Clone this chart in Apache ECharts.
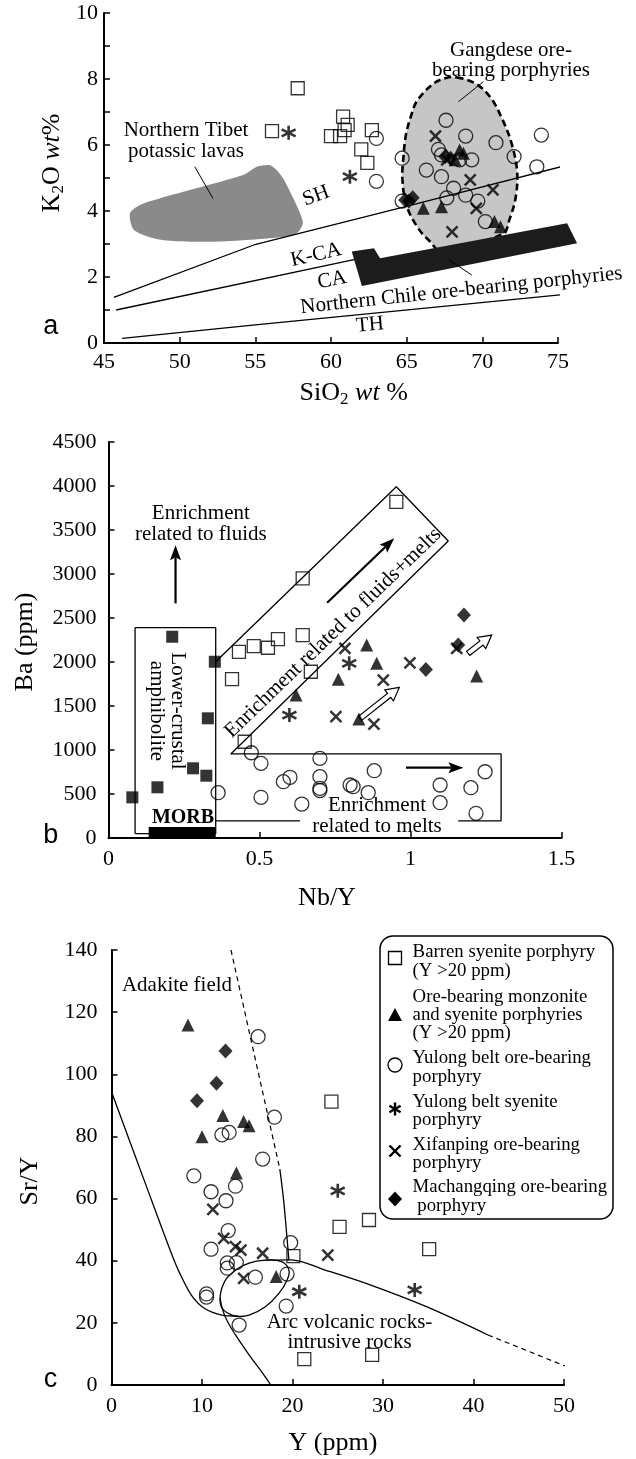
<!DOCTYPE html>
<html><head><meta charset="utf-8">
<script src="https://cdn.jsdelivr.net/npm/echarts@6/dist/echarts.min.js"></script>
<style>html,body{margin:0;padding:0;background:#fff}#c{width:636px;height:1459px}</style>
</head><body><div id="c"></div>
<script>
// ---------- Panel a : K2O vs SiO2 ----------
const aSquares = [[56.1,6.42],[57.8,7.72],[60.0,6.27],[60.6,6.27],[60.9,6.45],[61.1,6.61],[60.8,6.86],[62.7,6.45],[62.0,5.87],[62.4,5.46]];
const aCircles = [[63.0,6.2],[63.0,4.9],[64.7,5.6],[64.7,4.3],[67.6,6.75],[68.9,6.27],[70.9,6.07],[67.1,5.87],[67.3,5.7],[69.3,5.55],[66.3,5.24],[67.3,5.04],[68.1,4.69],[68.9,4.48],[67.65,4.4],[69.7,4.3],[70.2,3.68],[72.1,5.65],[73.9,6.3],[73.6,5.34],[68.5,5.55]];
const aTriangles = [[66.1,4.08],[67.3,4.13],[68.5,5.85],[68.75,5.75],[68.2,5.55],[70.8,3.68],[71.2,3.52]];
const aDiamonds = [[64.9,4.33],[65.4,4.4],[65.15,4.3],[67.55,5.65],[67.9,5.6]];
const aCrosses = [[66.9,6.27],[69.2,4.94],[70.7,4.64],[69.6,4.08],[68.0,3.37],[67.65,5.55]];
const aAsterisks = [[57.2,6.37],[61.25,5.04]];
const aLineSH = [[45.65,1.38],[54.9,2.97],[64.72,4.11],[75.2,5.34]];
const aLineKCA = [[45.8,1.0],[62.3,2.6]];
const aLineTH = [[46.2,0.14],[55.0,0.55],[75.4,1.47]];
const aTibet = [[46.72,3.94],[47.6,4.23],[54.2,5.09],[55.09,5.34],[55.97,5.39],[56.41,5.24],[56.95,4.9],[58.14,3.68],[57.8,3.35],[56.94,3.22],[52.36,3.07],[48.87,3.12],[46.99,3.42]];
const aGangdese = [[68.3,8.05],[69.6,7.85],[70.6,7.4],[71.3,6.8],[71.9,6.1],[72.3,5.2],[72.2,4.4],[71.8,3.75],[71.35,3.3],[67.2,2.8],[66.6,3.05],[65.8,3.45],[65.0,4.15],[64.72,4.95],[64.78,5.6],[64.95,6.3],[65.3,6.9],[65.7,7.35],[66.8,7.87],[67.6,8.03]];
const aChile = [[61.37,2.77],[62.84,2.87],[63.24,2.57],[75.6,3.63],[76.26,3.02],[62.04,1.73]];
const aLeaderTibet = [[51.0,5.34],[52.2,4.38]];
const aLeaderGangdese = [[70.07,7.92],[68.42,7.31]];
const aLeaderChile = [[67.8,2.52],[69.3,2.06]];

// ---------- Panel b : Ba vs Nb/Y ----------
const bBlackSquares = [[0.079,462],[0.162,576],[0.211,2287],[0.28,792],[0.324,708],[0.329,1360],[0.352,2003]];
const bSquares = [[0.409,1806],[0.432,2116],[0.481,2181],[0.528,2162],[0.561,2261],[0.643,2306],[0.67,1889],[0.451,1094],[0.643,2950],[0.953,3820]];
const bCircles = [[0.363,515],[0.473,969],[0.505,849],[0.505,462],[0.579,640],[0.601,690],[0.64,386],[0.70,905],[0.70,697],[0.70,565],[0.70,540],[0.80,602],[0.81,583],[0.86,515],[0.88,765],[1.098,602],[1.098,401],[1.2,572],[1.217,280],[1.247,753]];
const bTriangles = [[0.621,1625],[0.761,1803],[0.855,2193],[0.888,1985],[0.829,1352],[1.219,1840]];
const bAsterisks = [[0.599,1397],[0.797,1985]];
const bCrosses = [[0.783,2155],[0.91,1795],[0.753,1378],[0.879,1295],[0.998,1991],[1.153,2155]];
const bDiamonds = [[1.177,2533],[1.051,1916],[1.158,2193]];
const bAmphBox = [[0.088,50],[0.355,50],[0.355,2390],[0.088,2390],[0.088,50]];
const bChannel = [[0.355,2003],[0.953,3991],[1.125,3375],[0.405,955]];
const bMeltBox = [[0.405,955],[1.30,955],[1.30,195],[1.158,195]];
const bMeltBoxLeft = [[0.634,195],[0.355,195]];
const bMorb = [[0.133,0],[0.355,0],[0.355,125],[0.133,125]];
const bArrowFluids = [[0.222,2666],[0.222,3328]];
const bArrowChannel = [[0.724,2673],[0.946,3405]];
const bArrowMelts = [[0.985,799],[1.175,799]];
const bHollow1 = [[0.833,1360],[0.963,1712]];
const bHollow2 = [[1.191,2098],[1.269,2306]];

// ---------- Panel c : Sr/Y vs Y ----------
const cSquares = [[24.3,91.2],[25.2,50.9],[28.45,53.1],[20.1,41.5],[21.3,8.3],[28.8,9.7],[35.1,43.7]];
const cTriangles = [[8.45,115.9],[12.3,86.7],[10.0,79.9],[14.6,84.8],[15.2,83.4],[13.8,68.2],[18.2,34.9]];
const cCircles = [[16.2,112.1],[18.0,86.2],[12.2,80.5],[13.0,81.3],[16.7,72.7],[9.1,67.3],[11.0,62.2],[13.7,64.0],[12.65,59.3],[12.9,49.7],[11.0,43.7],[19.8,45.8],[12.8,39.3],[12.8,37.6],[13.8,39.4],[15.9,34.7],[19.4,35.7],[10.5,29.3],[10.5,28.3],[19.3,25.4],[14.1,19.3]];
const cAsterisks = [[25.0,62.5],[20.75,30.0],[33.5,30.6]];
const cCrosses = [[11.2,56.5],[12.4,47.2],[13.7,44.5],[14.3,43.4],[16.7,42.4],[14.6,34.3],[23.9,41.8]];
const cDiamonds = [[12.6,107.5],[11.6,97.1],[9.45,91.5]];
const cCurveA = [[0,94.4],[3.9,63.6],[6.6,42.5],[7.6,35.6],[8.9,28.6],[10.3,24.6],[12.2,22.5],[14.0,22.2]];
const cEllipse = [[12.0,27],[12.3,32],[13.3,36],[15.2,39.2],[17.0,40.2],[18.8,39.7],[19.6,37],[19.4,33.8],[18.5,29.5],[17.0,25.2],[15.2,22.5],[13.7,22.2],[12.4,24.1]];
const cDescend = [[12.0,28],[12.3,24],[12.8,20.5],[13.7,16.1],[15.2,9.7],[16.4,5],[17.6,0]];
const cAdakiteDashed = [[13.2,140],[18.6,69.5]];
const cAdakiteSolid = [[18.6,69.5],[19.0,60],[19.35,48.8],[19.6,40.2]];
const cArcSolid = [[17.0,40.2],[19.8,40.3],[23.6,37],[28.5,32.3],[34.8,25.2],[41.6,16.1]];
const cArcDashed = [[41.6,16.1],[50.3,5.9]];

const legendLabels = [
  ['Barren syenite porphyry','(Y >20 ppm)'],
  ['Ore-bearing monzonite','and syenite porphyries','(Y >20 ppm)'],
  ['Yulong belt ore-bearing','porphyry'],
  ['Yulong belt syenite','porphyry'],
  ['Xifanping ore-bearing','porphyry'],
  ['Machangqing ore-bearing',' porphyry']
];

// ---------- build ----------
const F = "'Liberation Serif','Times New Roman',serif";
const FS = "'Liberation Sans',Arial,sans-serif";
const chart = echarts.init(document.getElementById('c'));

function ax(extra, margin, fmt){
  return Object.assign({type:'value', splitLine:{show:false},
    axisLine:{show:true,onZero:false,lineStyle:{color:'#000',width:2}},
    axisTick:{show:true,inside:true,length:6,lineStyle:{color:'#000',width:1.5}},
    axisLabel:{color:'#000',fontFamily:F,fontSize:22,margin:margin,showMinLabel:true,showMaxLabel:true,hideOverlap:false,
      formatter: fmt || (v=>String(v))}}, extra);
}
const hollow = 'rgba(0,0,0,0)';
const SYM = {
  sq:{symbol:'rect',symbolSize:13,itemStyle:{color:hollow,borderColor:'#000',borderWidth:1.3}},
  ci:{symbol:'circle',symbolSize:14,itemStyle:{color:hollow,borderColor:'#000',borderWidth:1.3}},
  tri:{symbol:'triangle',symbolSize:13,itemStyle:{color:'#000'}},
  dia:{symbol:'diamond',symbolSize:[14,15],itemStyle:{color:'#000'}},
  x:{symbol:'path://M0,0L10,10M10,0L0,10',symbolSize:11,itemStyle:{color:hollow,borderColor:'#000',borderWidth:2.5}},
  ast:{symbol:'path://M5,0L5,10M0.67,2.5L9.33,7.5M0.67,7.5L9.33,2.5',symbolSize:14,itemStyle:{color:hollow,borderColor:'#000',borderWidth:2.6}},
  bsq:{symbol:'rect',symbolSize:12,itemStyle:{color:'#000'}}
};
function sc(g,data,key){
  return Object.assign({type:'scatter',xAxisIndex:g,yAxisIndex:g,data:data,z:10,silent:true,animation:false,emphasis:{disabled:true}}, JSON.parse(JSON.stringify(SYM[key])));
}
function ln(g,data,o){
  o=o||{};
  return {type:'line',xAxisIndex:g,yAxisIndex:g,data:data,symbol:'none',clip:false,silent:true,smooth:o.smooth||false,animation:false,
    lineStyle:{color:'#000',width:o.w||1.3,type:o.dash||'solid'},z:o.z||5};
}
function poly(g,pts,style,smooth,z){
  return {type:'custom',xAxisIndex:g,yAxisIndex:g,clip:false,silent:true,z:z||2,animation:false,data:[[pts[0][0],pts[0][1]]],
    renderItem:function(p,api){return {type:'polygon',shape:{points:pts.map(q=>api.coord(q)),smooth:smooth||0},style:style};}};
}
function arrowGeom(p1,p2,HL){
  const dx=p2[0]-p1[0],dy=p2[1]-p1[1],L=Math.hypot(dx,dy),ux=dx/L,uy=dy/L,nx=-uy,ny=ux;
  return {ux,uy,nx,ny,bx:p2[0]-ux*HL,by:p2[1]-uy*HL};
}
function solidArrow(g,ab){
  return {type:'custom',xAxisIndex:g,yAxisIndex:g,clip:false,silent:true,z:6,animation:false,data:[[ab[0][0],ab[0][1]]],
    renderItem:function(p,api){
      const p1=api.coord(ab[0]),p2=api.coord(ab[1]);const G=arrowGeom(p1,p2,15);
      return {type:'group',children:[
        {type:'line',shape:{x1:p1[0],y1:p1[1],x2:G.bx+G.ux*3,y2:G.by+G.uy*3},style:{stroke:'#000',lineWidth:2.2}},
        {type:'polygon',shape:{points:[p2,[G.bx+G.nx*5.5,G.by+G.ny*5.5],[G.bx+G.ux*3,G.by+G.uy*3],[G.bx-G.nx*5.5,G.by-G.ny*5.5]]},style:{fill:'#000'}}
      ]};
    }};
}
function hollowArrow(g,ab){
  return {type:'custom',xAxisIndex:g,yAxisIndex:g,clip:false,silent:true,z:6,animation:false,data:[[ab[0][0],ab[0][1]]],
    renderItem:function(p,api){
      const p1=api.coord(ab[0]),p2=api.coord(ab[1]);const G=arrowGeom(p1,p2,13);const hw=2.6,HW=7;
      const pts=[[p1[0]+G.nx*hw,p1[1]+G.ny*hw],[G.bx+G.nx*hw,G.by+G.ny*hw],[G.bx+G.nx*HW,G.by+G.ny*HW],p2,
        [G.bx-G.nx*HW,G.by-G.ny*HW],[G.bx-G.nx*hw,G.by-G.ny*hw],[p1[0]-G.nx*hw,p1[1]-G.ny*hw]];
      return {type:'polygon',shape:{points:pts},style:{fill:'#fff',stroke:'#000',lineWidth:1.2}};
    }};
}
function T(x,y,text,o){
  o=o||{};
  const st={text:text,fontFamily:o.ff||F,fontSize:o.fs||21,fontWeight:o.fw||'normal',fill:'#000',
      align:o.align||'center',verticalAlign:'middle',lineHeight:o.lh||21};
  if(o.rich) st.rich=o.rich;
  return {type:'text',x:x,y:y,rotation:(o.rot||0)*Math.PI/180,z:100,silent:true,style:st};
}
function L(x1,y1,x2,y2,w){return {type:'line',shape:{x1,y1,x2,y2},style:{stroke:'#000',lineWidth:w||2.4},z:60,silent:true};}
const richAx = {
  n:{fontFamily:F,fontSize:26,fill:'#000'},
  s:{fontFamily:F,fontSize:17,fill:'#000',verticalAlign:'bottom',lineHeight:12},
  i:{fontFamily:F,fontSize:26,fontStyle:'italic',fill:'#000'}
};

const series = [
  // panel a
  poly(0,aTibet,{fill:'#8a8a8a'},0.25,1),
  poly(0,aGangdese,{fill:'#c6c6c6',stroke:'#000',lineWidth:2.6,lineDash:[7,4]},0.35,1),
  ln(0,aLineSH),ln(0,aLineKCA),ln(0,aLineTH),
  poly(0,aChile,{fill:'#1c1c1c'},0,7),
  ln(0,aLeaderTibet,{w:1}),ln(0,aLeaderGangdese,{w:1}),ln(0,aLeaderChile,{w:1,z:8}),
  sc(0,aSquares,'sq'),sc(0,aCircles,'ci'),sc(0,aTriangles,'tri'),sc(0,aDiamonds,'dia'),sc(0,aCrosses,'x'),sc(0,aAsterisks,'ast'),
  // panel b
  ln(1,bAmphBox),ln(1,bChannel),ln(1,bMeltBox),ln(1,bMeltBoxLeft),
  poly(1,bMorb,{fill:'#000'},0,3),
  solidArrow(1,bArrowFluids),solidArrow(1,bArrowChannel),solidArrow(1,bArrowMelts),
  hollowArrow(1,bHollow1),hollowArrow(1,bHollow2),
  sc(1,bBlackSquares,'bsq'),sc(1,bSquares,'sq'),sc(1,bCircles,'ci'),sc(1,bTriangles,'tri'),sc(1,bAsterisks,'ast'),sc(1,bCrosses,'x'),sc(1,bDiamonds,'dia'),
  // panel c
  ln(2,cCurveA,{smooth:0.3}),
  poly(2,cEllipse,{fill:'none',stroke:'#000',lineWidth:1.3},0.45,5),
  ln(2,cDescend,{smooth:0.4}),
  ln(2,cAdakiteDashed,{dash:[5,4],w:1.2}),ln(2,cAdakiteSolid,{smooth:0.4}),
  ln(2,cArcSolid,{smooth:0.35}),ln(2,cArcDashed,{dash:[5,4],w:1.2}),
  sc(2,cSquares,'sq'),sc(2,cCircles,'ci'),sc(2,cTriangles,'tri'),sc(2,cAsterisks,'ast'),sc(2,cCrosses,'x'),sc(2,cDiamonds,'dia')
];

// legend graphics (pixel layout)
const LX = 395, TX = 412.6;
const legendSymY = [958,1015,1065,1109,1151,1199];
const legendTextY = [[952.3,971],[996.7,1015,1033.3],[1057.7,1076.7],[1101.7,1120],[1145,1163.3],[1187.3,1205.7]];
const y3=legendSymY[3], y4=legendSymY[4];
const legendG = [
  {type:'rect',shape:{x:380,y:936,width:233,height:283,r:13},style:{fill:'#fff',stroke:'#000',lineWidth:1.5},z:50,silent:true},
  {type:'rect',shape:{x:LX-6.5,y:legendSymY[0]-6.5,width:13,height:13},style:{fill:'none',stroke:'#000',lineWidth:1.3},z:60,silent:true},
  {type:'polygon',shape:{points:[[LX,legendSymY[1]-7],[LX+7,legendSymY[1]+6],[LX-7,legendSymY[1]+6]]},style:{fill:'#000'},z:60,silent:true},
  {type:'circle',shape:{cx:LX,cy:legendSymY[2],r:7},style:{fill:'none',stroke:'#000',lineWidth:1.3},z:60,silent:true},
  L(LX,y3-6.5,LX,y3+6.5), L(LX-5.6,y3-3.2,LX+5.6,y3+3.2), L(LX-5.6,y3+3.2,LX+5.6,y3-3.2),
  L(LX-5.5,y4-5.5,LX+5.5,y4+5.5), L(LX+5.5,y4-5.5,LX-5.5,y4+5.5),
  {type:'polygon',shape:{points:[[LX,legendSymY[5]-7.5],[LX+7,legendSymY[5]],[LX,legendSymY[5]+7.5],[LX-7,legendSymY[5]]]},style:{fill:'#000'},z:60,silent:true}
];
legendLabels.forEach((lines,i)=>{lines.forEach((t,j)=>{legendG.push(T(TX,legendTextY[i][j],t,{fs:18.8,align:'left'}));});});

const texts = [
  T(50.8,326.7,'a',{ff:FS,fs:27}),T(50.8,836,'b',{ff:FS,fs:27}),T(50.5,1380,'c',{ff:FS,fs:27}),
  T(353.7,393,'{n|SiO}{s|2}{n| }{i|wt}{n| %}',{rich:richAx,lh:30}),
  T(52,163,'{n|K}{s|2}{n|O }{i|wt}{n|%}',{rich:richAx,rot:90,lh:30}),
  T(327,898,'Nb/Y',{fs:26}),
  T(25,642,'Ba (ppm)',{fs:26,rot:90}),
  T(333,1443,'Y (ppm)',{fs:26}),
  T(30.5,1181,'Sr/Y',{fs:26,rot:90}),
  T(186,140.5,'Northern Tibet\npotassic lavas'),
  T(511,60.5,'Gangdese ore-\nbearing porphyries',{lh:19.5}),
  T(316,196,'SH',{rot:20}),
  T(316,255,'K-CA',{rot:13}),
  T(332,280,'CA',{rot:11}),
  T(370,325,'TH',{rot:5}),
  T(461.4,290.5,'Northern Chile ore-bearing porphyries',{rot:6.1}),
  T(200.8,524,'Enrichment\nrelated to fluids'),
  T(333,633,'Enrichment related to fluids+melts',{rot:44}),
  T(167,711,'Lower-crustal\namphibolite',{rot:-90}),
  T(183,818,'MORB',{fw:'bold',fs:20}),
  T(377,816,'Enrichment\nrelated to melts'),
  T(177,985,'Adakite field'),
  T(349.5,1332.7,'Arc volcanic rocks-\nintrusive rocks',{lh:20})
];

chart.setOption({
  animation:false,
  grid:[
    {left:104,top:13,width:454,height:330},
    {left:108.5,top:442,width:453,height:396},
    {left:111.5,top:950,width:452.5,height:435}
  ],
  xAxis:[
    ax({gridIndex:0,min:45,max:75,interval:5},8),
    ax({gridIndex:1,min:0,max:1.5,interval:0.5},10),
    ax({gridIndex:2,min:0,max:50,interval:10},10)
  ],
  yAxis:[
    ax({gridIndex:0,min:0,max:10,interval:1},6,v=>(v%2===0?String(v):'')),
    ax({gridIndex:1,min:0,max:4500,interval:500},12),
    ax({gridIndex:2,min:0,max:140,interval:20},14)
  ],
  series:series,
  graphic:{elements:legendG.concat(texts)}
});
</script></body></html>
